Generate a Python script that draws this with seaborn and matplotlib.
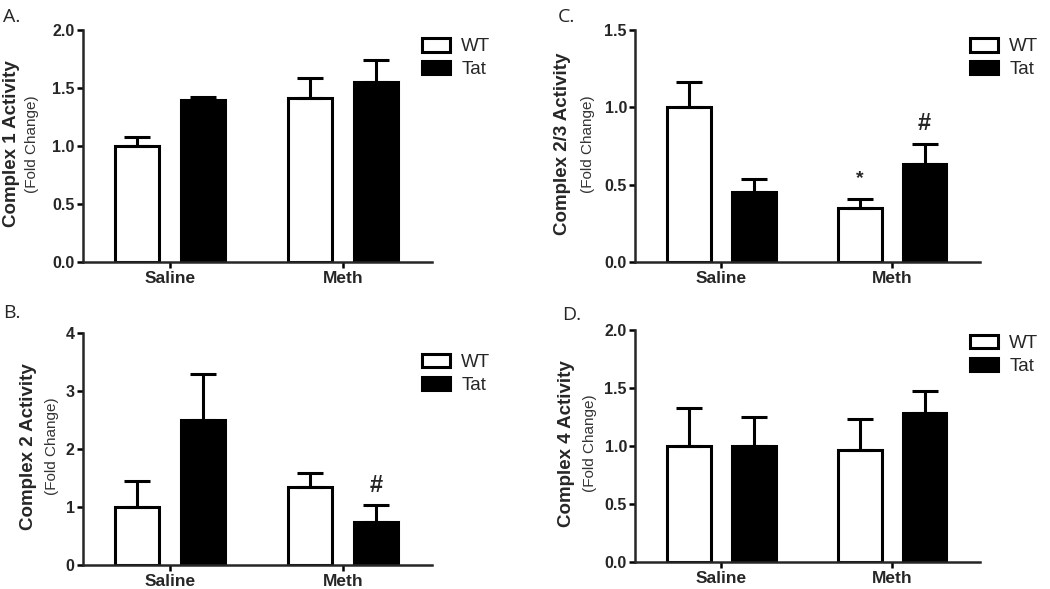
import matplotlib
import matplotlib.pyplot as plt
import pandas as pd
import seaborn as sns

matplotlib.use('agg')

treatments = ["Saline", "Meth"]
genotypes = ["WT", "Tat"]

# panel A - complex 1
c1_wt = [1.00, 1.415]
c1_wt_err = [0.08, 0.17]
c1_tat = [1.40, 1.55]
c1_tat_err = [0.025, 0.19]

# panel B - complex 2
c2_wt = [1.00, 1.35]
c2_wt_err = [0.45, 0.23]
c2_tat = [2.50, 0.74]
c2_tat_err = [0.79, 0.29]

# panel C - complex 2/3
c23_wt = [1.00, 0.35]
c23_wt_err = [0.165, 0.06]
c23_tat = [0.455, 0.635]
c23_tat_err = [0.08, 0.13]

# panel D - complex 4
c4_wt = [1.00, 0.965]
c4_wt_err = [0.325, 0.27]
c4_tat = [1.00, 1.28]
c4_tat_err = [0.25, 0.19]

sns.set_style("ticks")
plt.rcParams['font.family'] = ['Liberation Sans', 'DejaVu Sans']

panels = [
    dict(tag="A.", ylabel="Complex 1 Activity", wt=c1_wt, wt_err=c1_wt_err, tat=c1_tat, tat_err=c1_tat_err,
         yticks=[0, 0.5, 1.0, 1.5, 2.0], fmt="{:.1f}", marks=[],
         rect=[0.079, 0.555, 0.332, 0.394], lab_x=(-0.206, -0.146), leg_y=0.965, tag_xy=(0.003, 0.963)),
    dict(tag="B.", ylabel="Complex 2 Activity", wt=c2_wt, wt_err=c2_wt_err, tat=c2_tat, tat_err=c2_tat_err,
         yticks=[0, 1, 2, 3, 4], fmt="{:.0f}", marks=[("Meth", "Tat", "#")],
         rect=[0.079, 0.041, 0.332, 0.394], lab_x=(-0.155, -0.089), leg_y=0.91, tag_xy=(0.003, 0.46)),
    dict(tag="C.", ylabel="Complex 2/3 Activity", wt=c23_wt, wt_err=c23_wt_err, tat=c23_tat, tat_err=c23_tat_err,
         yticks=[0, 0.5, 1.0, 1.5], fmt="{:.1f}", marks=[("Meth", "WT", "*"), ("Meth", "Tat", "#")],
         rect=[0.605, 0.555, 0.328, 0.394], lab_x=(-0.21, -0.136), leg_y=0.965, tag_xy=(0.531, 0.963)),
    dict(tag="D.", ylabel="Complex 4 Activity", wt=c4_wt, wt_err=c4_wt_err, tat=c4_tat, tat_err=c4_tat_err,
         yticks=[0, 0.5, 1.0, 1.5, 2.0], fmt="{:.1f}", marks=[],
         rect=[0.605, 0.046, 0.328, 0.394], lab_x=(-0.199, -0.130), leg_y=0.978, tag_xy=(0.535, 0.457)),
]

fig = plt.figure(figsize=(10.5, 5.89), dpi=100)

for p in panels:
    ax = fig.add_axes(p["rect"])
    df = pd.DataFrame({
        "treatment": treatments * 2,
        "genotype": ["WT"] * 2 + ["Tat"] * 2,
        "value": p["wt"] + p["tat"],
    })
    sns.barplot(data=df, x="treatment", y="value", hue="genotype", order=treatments, hue_order=genotypes,
                palette={"WT": "white", "Tat": "black"}, edgecolor="black", linewidth=2.2,
                width=0.76, gap=0.33, errorbar=None, ax=ax)

    errs = {"WT": p["wt_err"], "Tat": p["tat_err"]}
    tops = {}
    for cont, g in zip(ax.containers, genotypes):
        for bar, err, t in zip(cont, errs[g], treatments):
            xc = bar.get_x() + bar.get_width() / 2
            h = bar.get_height()
            ax.errorbar(xc, h, yerr=[[0], [err]], color="black", capsize=9.5,
                        elinewidth=2.2, capthick=2.2, zorder=1)
            tops[(t, g)] = (xc, h + err)

    for t, g, sym in p["marks"]:
        xc, top = tops[(t, g)]
        ax.annotate(sym, (xc, top), xytext=(0, 6 if sym == "#" else 8), textcoords="offset points",
                    ha="center", va="bottom", fontsize=17 if sym == "#" else 14, fontweight="bold")

    ax.set_xlim(-0.505, 1.512)
    ax.set_ylim(0, p["yticks"][-1])
    ax.set_yticks(p["yticks"])
    ax.set_yticklabels([p["fmt"].format(v) for v in p["yticks"]])
    ax.set_xlabel("")
    ax.set_ylabel("")
    sns.despine(ax=ax)
    for s in ["left", "bottom"]:
        ax.spines[s].set_linewidth(1.8)
    ax.tick_params(axis="both", length=4.5, width=1.8, color="black")
    ax.tick_params(axis="y", labelsize=11.5, pad=1.5)
    ax.tick_params(axis="x", labelsize=12.5, pad=2)
    for lab in ax.get_xticklabels() + ax.get_yticklabels():
        lab.set_fontweight("bold")

    ax.text(p["lab_x"][0], 0.51, p["ylabel"], transform=ax.transAxes, rotation=90,
            ha="center", va="center", fontsize=13.5, fontweight="bold")
    ax.text(p["lab_x"][1], 0.51, "(Fold Change)", transform=ax.transAxes, rotation=90,
            ha="center", va="center", fontsize=11, color="#333333")

    sns.move_legend(ax, "upper left", bbox_to_anchor=(0.972, p["leg_y"]), frameon=False, title=None,
                    fontsize=13.5, handlelength=1.5, handleheight=0.72, handletextpad=0.6,
                    labelspacing=0.3, borderpad=0, borderaxespad=0)

    fig.text(p["tag_xy"][0], p["tag_xy"][1], p["tag"], fontsize=14, family="Open Sans",
             ha="left", va="baseline")

fig.savefig("out.png", dpi=100)
